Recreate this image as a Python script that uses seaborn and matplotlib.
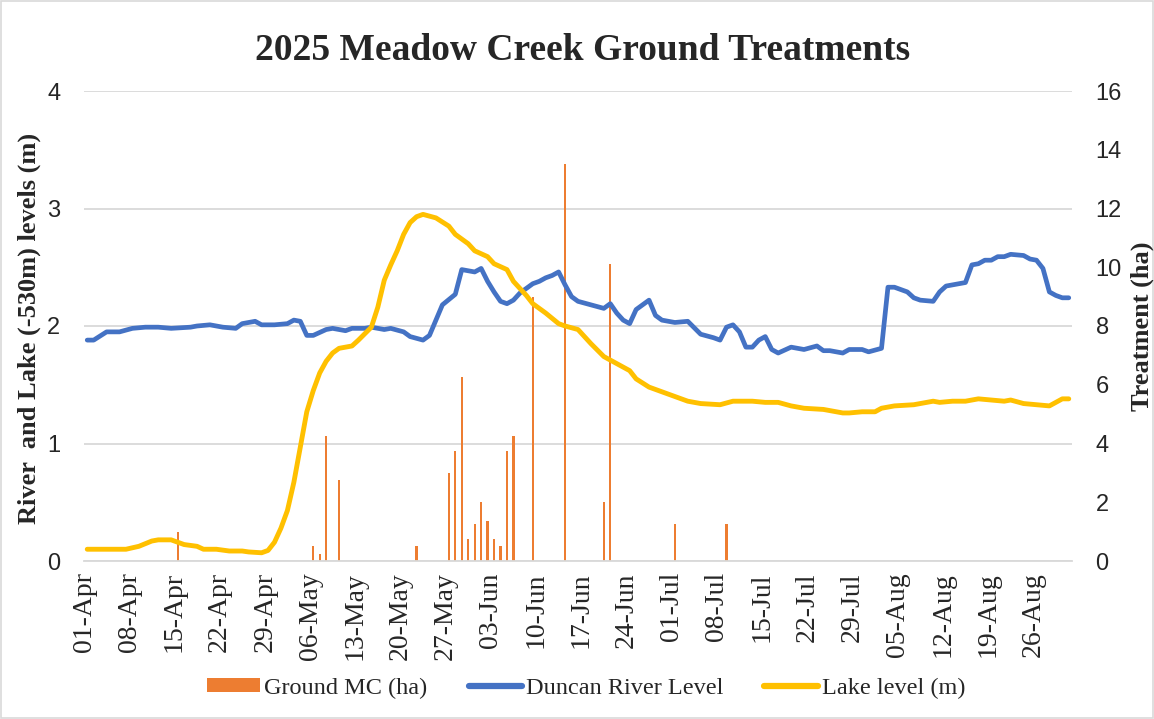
import matplotlib
matplotlib.use("Agg")
import matplotlib.pyplot as plt
from matplotlib.patches import Patch, Rectangle
from matplotlib.lines import Line2D
import numpy as np
import pandas as pd
import seaborn as sns

# ---- data -------------------------------------------------------------
season_start = "2025-04-01"

# Ground treatments, hectares per day
treat_dates = ["04-15", "05-06", "05-07", "05-08", "05-10", "05-22", "05-27",
               "05-28", "05-29", "05-30", "05-31", "06-01", "06-02", "06-03",
               "06-04", "06-05", "06-06", "06-09", "06-14", "06-20", "06-21",
               "07-01", "07-09"]
treat_ha = [1.0, 0.5, 0.25, 4.25, 2.75, 0.5, 3.0,
            3.75, 6.25, 0.75, 1.25, 2.0, 1.35, 0.75,
            0.5, 3.75, 4.25, 9.0, 13.5, 2.0, 10.1,
            1.25, 1.25]

# Duncan River level (m)
river_dates = ["04-01", "04-02", "04-04", "04-06", "04-08", "04-10", "04-12", "04-14",
               "04-17", "04-18", "04-20", "04-22", "04-24", "04-25", "04-27", "04-28",
               "04-30", "05-02", "05-03", "05-04", "05-05", "05-06", "05-08", "05-09",
               "05-11", "05-12", "05-14", "05-15", "05-17", "05-18", "05-20", "05-21",
               "05-23", "05-24", "05-25", "05-26", "05-28", "05-29", "05-30", "05-31",
               "06-01", "06-02", "06-03", "06-04", "06-05", "06-06", "06-07", "06-08",
               "06-09", "06-10", "06-11", "06-12", "06-13", "06-14", "06-15", "06-16",
               "06-18", "06-20", "06-21", "06-22", "06-23", "06-24", "06-25", "06-27",
               "06-28", "06-29", "07-01", "07-03", "07-05", "07-07", "07-08", "07-09",
               "07-10", "07-11", "07-12", "07-13", "07-14", "07-15", "07-16", "07-17",
               "07-19", "07-21", "07-23", "07-24", "07-25", "07-27", "07-28", "07-30",
               "07-31", "08-02", "08-03", "08-04", "08-06", "08-07", "08-08", "08-10",
               "08-11", "08-12", "08-13", "08-15", "08-16", "08-17", "08-18", "08-19",
               "08-20", "08-21", "08-22", "08-24", "08-25", "08-26", "08-27", "08-28",
               "08-29", "08-30", "08-31"]
river_m = [1.88, 1.88, 1.95, 1.95, 1.98, 1.99, 1.99, 1.98,
           1.99, 2.00, 2.01, 1.99, 1.98, 2.02, 2.04, 2.01,
           2.01, 2.02, 2.05, 2.04, 1.92, 1.92, 1.97, 1.98,
           1.96, 1.98, 1.98, 1.99, 1.97, 1.98, 1.95, 1.91,
           1.88, 1.92, 2.05, 2.18, 2.27, 2.48, 2.47, 2.46,
           2.49, 2.38, 2.29, 2.21, 2.19, 2.22, 2.28, 2.32,
           2.36, 2.38, 2.41, 2.43, 2.46, 2.35, 2.25, 2.21,
           2.18, 2.15, 2.19, 2.11, 2.05, 2.02, 2.14, 2.22,
           2.09, 2.05, 2.03, 2.04, 1.93, 1.90, 1.88, 1.99,
           2.01, 1.95, 1.82, 1.82, 1.88, 1.91, 1.80, 1.77,
           1.82, 1.80, 1.83, 1.79, 1.79, 1.77, 1.80, 1.80,
           1.78, 1.81, 2.33, 2.33, 2.29, 2.24, 2.22, 2.21,
           2.29, 2.34, 2.35, 2.37, 2.52, 2.53, 2.56, 2.56,
           2.59, 2.59, 2.61, 2.60, 2.57, 2.56, 2.49, 2.29,
           2.26, 2.24, 2.24]

# Kootenay Lake level above 530 m (m)
lake_dates = ["04-01", "04-07", "04-09", "04-11", "04-12", "04-14", "04-15", "04-16",
              "04-18", "04-19", "04-21", "04-23", "04-25", "04-26", "04-28", "04-29",
              "04-30", "05-01", "05-02", "05-03", "05-04", "05-05", "05-06", "05-07",
              "05-08", "05-09", "05-10", "05-12", "05-13", "05-15", "05-16", "05-17",
              "05-18", "05-19", "05-20", "05-21", "05-22", "05-23", "05-25", "05-27",
              "05-28", "05-30", "05-31", "06-02", "06-03", "06-05", "06-06", "06-08",
              "06-09", "06-11", "06-13", "06-14", "06-16", "06-18", "06-20", "06-22",
              "06-24", "06-25", "06-27", "06-29", "07-01", "07-03", "07-05", "07-08",
              "07-10", "07-13", "07-15", "07-17", "07-19", "07-21", "07-24", "07-25",
              "07-27", "07-28", "07-30", "08-01", "08-02", "08-04", "08-07", "08-09",
              "08-10", "08-11", "08-13", "08-15", "08-17", "08-19", "08-21", "08-22",
              "08-24", "08-26", "08-28", "08-29", "08-30", "08-31"]
lake_m = [0.10, 0.10, 0.125, 0.17, 0.18, 0.18, 0.16, 0.14,
          0.125, 0.10, 0.10, 0.085, 0.085, 0.077, 0.07, 0.09,
          0.16, 0.28, 0.43, 0.67, 0.97, 1.27, 1.45, 1.60,
          1.70, 1.77, 1.81, 1.83, 1.88, 1.99, 2.16, 2.39,
          2.52, 2.64, 2.78, 2.88, 2.93, 2.95, 2.92, 2.85,
          2.78, 2.70, 2.64, 2.59, 2.53, 2.48, 2.38, 2.26,
          2.19, 2.11, 2.02, 2.00, 1.97, 1.85, 1.74, 1.68,
          1.62, 1.55, 1.48, 1.44, 1.40, 1.36, 1.34, 1.33,
          1.36, 1.36, 1.35, 1.35, 1.32, 1.30, 1.29, 1.28,
          1.26, 1.26, 1.27, 1.27, 1.30, 1.32, 1.33, 1.35,
          1.36, 1.35, 1.36, 1.36, 1.38, 1.37, 1.36, 1.37,
          1.34, 1.33, 1.32, 1.35, 1.38, 1.38]

tick_labels = ["01-Apr", "08-Apr", "15-Apr", "22-Apr", "29-Apr", "06-May",
               "13-May", "20-May", "27-May", "03-Jun", "10-Jun", "17-Jun",
               "24-Jun", "01-Jul", "08-Jul", "15-Jul", "22-Jul", "29-Jul",
               "05-Aug", "12-Aug", "19-Aug", "26-Aug"]
tick_dates = ["04-01", "04-08", "04-15", "04-22", "04-29", "05-06",
              "05-13", "05-20", "05-27", "06-03", "06-10", "06-17",
              "06-24", "07-01", "07-08", "07-15", "07-22", "07-29",
              "08-05", "08-12", "08-19", "08-26"]

# ---- helpers ----------------------------------------------------------
t0 = pd.Timestamp(season_start)


def day_index(md_list):
    """Days since the start of the season for a list of 'MM-DD' strings."""
    return np.array([(pd.Timestamp("2025-" + s) - t0).days for s in md_list])


c_bar = "#ED7D31"
c_river = "#4472C4"
c_lake = "#FFC000"
grid_c = "#D9D9D9"
serif = "Liberation Serif"
sans = "Liberation Sans"

sns.set_style("white")
plt.rcParams["font.family"] = [serif, "DejaVu Serif"]

fig = plt.figure(figsize=(11.54, 7.19), dpi=100)
W, H = 1154, 719
L, R, T, B = 84, 1072, 91, 561
ax1 = fig.add_axes([L / W, 1 - B / H, (R - L) / W, (B - T) / H])
ax2 = ax1.twinx()

# bars + gridlines sit behind the level lines
ax1.set_zorder(2)
ax2.set_zorder(1)
ax1.patch.set_visible(False)

treat_df = pd.DataFrame({"day": day_index(treat_dates), "ha": treat_ha})
sns.barplot(data=treat_df, x="day", y="ha", native_scale=True, width=0.34,
            color=c_bar, saturation=1, errorbar=None, linewidth=0, ax=ax2)

river_df = pd.DataFrame({"day": day_index(river_dates), "m": river_m})
lake_df = pd.DataFrame({"day": day_index(lake_dates), "m": lake_m})
sns.lineplot(data=river_df, x="day", y="m", color=c_river, linewidth=3.4,
             ax=ax1, solid_capstyle="round", solid_joinstyle="round")
sns.lineplot(data=lake_df, x="day", y="m", color=c_lake, linewidth=3.5,
             ax=ax1, solid_capstyle="round", solid_joinstyle="round")

# ---- axes -------------------------------------------------------------
n_days = 153
for ax in (ax1, ax2):
    ax.set_xlim(-0.5, n_days - 0.5)
    ax.set_xlabel("")
    ax.set_ylabel("")
    for s in ax.spines.values():
        s.set_visible(False)

ax1.set_ylim(0, 4)
ax2.set_ylim(0, 16)
ax1.set_yticks([0, 1, 2, 3, 4])
ax2.set_yticks([0, 2, 4, 6, 8, 10, 12, 14, 16])

ax2.grid(False)
ax1.grid(False)
for v in [0, 4, 8, 12, 16]:
    ax2.axhline(v, color=grid_c, lw=1.3, zorder=0)

ax1.spines["bottom"].set_visible(True)
ax1.spines["bottom"].set_color(grid_c)
ax1.spines["bottom"].set_linewidth(1.3)

ax1.set_xticks(day_index(tick_dates) - 0.5)
ax1.set_xticklabels(tick_labels, rotation=90, fontsize=20, family=serif)
ax1.tick_params(axis="x", length=5, width=1.3, color=grid_c, pad=3)
ax2.tick_params(axis="x", bottom=False, labelbottom=False)

ax1.tick_params(axis="y", length=0, pad=17, labelsize=17)
ax2.tick_params(axis="y", length=0, pad=17, labelsize=17)
for lab in ax1.get_yticklabels() + ax2.get_yticklabels():
    lab.set_family(sans)

# ---- text -------------------------------------------------------------
fig.text(583 / W, 1 - 50 / H, "2025 Meadow Creek Ground Treatments",
         ha="center", va="center", fontsize=27, fontweight="bold", family=serif)
fig.text(29 / W, 1 - 328 / H, "River  and Lake (-530m) levels (m)",
         rotation=90, ha="center", va="center", fontsize=19,
         fontweight="bold", family=serif)
fig.text(1142 / W, 1 - 326 / H, "Treatment (ha)",
         rotation=90, ha="center", va="center", fontsize=19,
         fontweight="bold", family=serif)

handles = [Patch(facecolor=c_bar, edgecolor="none"),
           Line2D([], [], color=c_river, lw=4.5, solid_capstyle="round"),
           Line2D([], [], color=c_lake, lw=4.5, solid_capstyle="round")]
labels = ["Ground MC (ha)", "Duncan River Level", "Lake level (m)"]
fig.legend(handles, labels, loc="center", bbox_to_anchor=(586 / W, 1 - 688 / H),
           ncol=3, frameon=False, handlelength=2.2,
           handleheight=0.55, handletextpad=0.15, columnspacing=1.7,
           prop={"family": serif, "size": 17.5})

fig.patches.append(Rectangle((0.001, 0.0015), 0.998, 0.997,
                             transform=fig.transFigure, fill=False,
                             edgecolor=grid_c, lw=1.2))

fig.savefig("out.png", dpi=100, facecolor="white")
